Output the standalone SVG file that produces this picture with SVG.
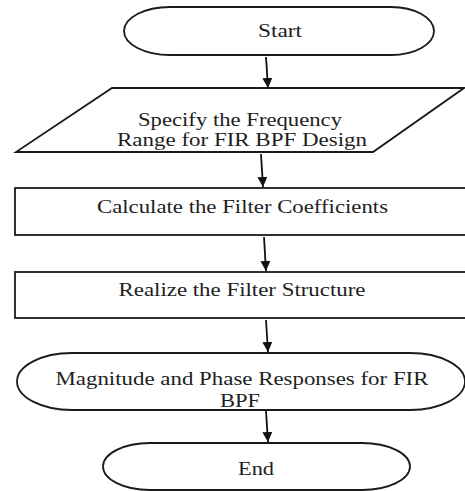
<svg xmlns="http://www.w3.org/2000/svg" width="465" height="491" viewBox="0 0 465 491">
<defs>
<style>
.s{fill:#fff;stroke:#1a1a1a;stroke-width:1.8}
.t{font-family:'Liberation Serif','DejaVu Serif',serif;font-size:19.5px;fill:#1e1e1e;text-anchor:middle}
.c{stroke:#111;stroke-width:1.8;fill:none;marker-end:url(#ah)}
</style>
<marker id="ah" markerWidth="11" markerHeight="10" refX="10" refY="5" orient="auto" markerUnits="userSpaceOnUse">
<path d="M0,0 L10,5 L0,10 Z" fill="#111"/>
</marker>
</defs>
<rect width="465" height="491" fill="#fff"/>
<g id="start">
<path class="s" d="M170,7 H391 A43,24 0 0 1 391,55 H170 A46,24 0 0 1 170,7 Z"/>
<text class="t" x="280" y="37" textLength="44" lengthAdjust="spacingAndGlyphs">Start</text>
</g>
<g id="specify">
<path class="s" d="M112,88 H464 L373,152 H16 Z"/>
<text class="t" x="240" y="126" textLength="204" lengthAdjust="spacingAndGlyphs">Specify the Frequency</text>
<text class="t" x="242" y="146" textLength="250" lengthAdjust="spacingAndGlyphs">Range for FIR BPF Design</text>
</g>
<g id="calculate">
<rect class="s" x="15" y="188" width="452" height="47"/>
<text class="t" x="242.5" y="213" textLength="291" lengthAdjust="spacingAndGlyphs">Calculate the Filter Coefficients</text>
</g>
<g id="realize">
<rect class="s" x="15" y="272" width="452" height="46"/>
<text class="t" x="242" y="296" textLength="247" lengthAdjust="spacingAndGlyphs">Realize the Filter Structure</text>
</g>
<g id="magnitude">
<path class="s" d="M72,353 H410 A55,28.5 0 0 1 410,410 H72 A55,28.5 0 0 1 72,353 Z"/>
<text class="t" x="242" y="385" textLength="373" lengthAdjust="spacingAndGlyphs">Magnitude and Phase Responses for FIR</text>
<text class="t" x="240" y="407" textLength="40" lengthAdjust="spacingAndGlyphs">BPF</text>
</g>
<g id="end">
<path class="s" d="M150,443 H362 A48,23.5 0 0 1 362,490 H150 A47,23.5 0 0 1 150,443 Z"/>
<text class="t" x="256" y="475" textLength="36" lengthAdjust="spacingAndGlyphs">End</text>
</g>
<g id="connectors">
<line class="c" x1="266" y1="57" x2="268" y2="88"/>
<line class="c" x1="261" y1="154" x2="263" y2="187"/>
<line class="c" x1="264" y1="237" x2="266" y2="271"/>
<line class="c" x1="266" y1="320" x2="268" y2="352"/>
<line class="c" x1="266" y1="411" x2="268" y2="442"/>
</g>
</svg>
